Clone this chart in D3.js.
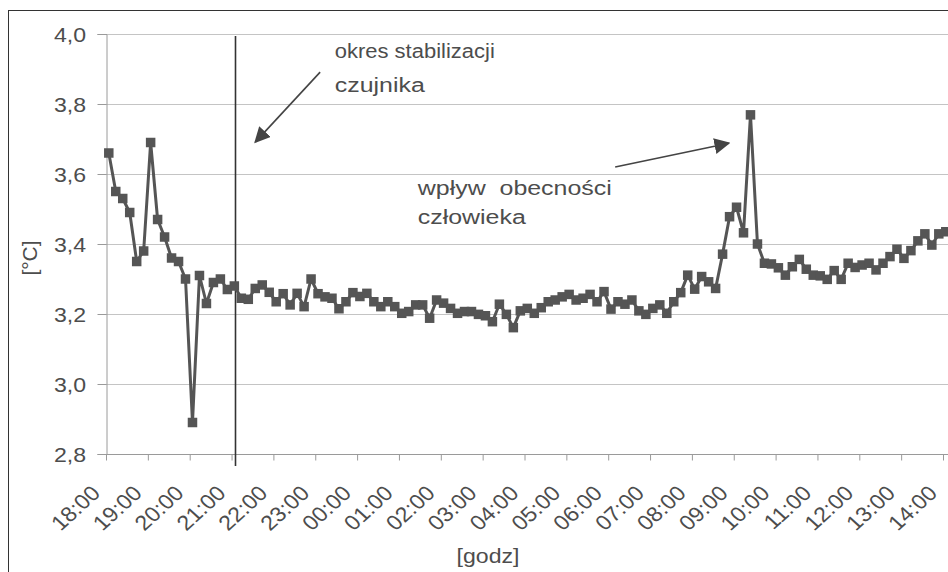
<!DOCTYPE html>
<html>
<head>
<meta charset="utf-8">
<script src="https://cdn.jsdelivr.net/npm/d3@7"></script>
<style>
  html, body { margin: 0; padding: 0; background: #fff; }
  svg { display: block; }
  text { font-family: "Liberation Sans", Arial, sans-serif; }
</style>
</head>
<body>
<svg id="chart" width="948" height="572"></svg>
<script>
// ---- data ----
const hourLabels = ["18:00","19:00","20:00","21:00","22:00","23:00","00:00","01:00","02:00","03:00","04:00",
  "05:00","06:00","07:00","08:00","09:00","10:00","11:00","12:00","13:00","14:00"];
const yTicks = [2.8, 3.0, 3.2, 3.4, 3.6, 3.8, 4.0];
const firstSampleMinute = 4;     // minutes after 18:00
const sampleStepMinutes = 10;
const temperature = [
  3.66, 3.55, 3.53, 3.49, 3.35, 3.38, 3.69, 3.47, 3.42, 3.36,
  3.35, 3.30, 2.89, 3.31, 3.23, 3.29, 3.30, 3.27, 3.28, 3.245,
  3.242, 3.273, 3.283, 3.262, 3.235, 3.258, 3.226, 3.259, 3.221, 3.30,
  3.258, 3.249, 3.245, 3.215, 3.235, 3.261, 3.250, 3.259, 3.235, 3.221,
  3.235, 3.221, 3.202, 3.207, 3.226, 3.226, 3.188, 3.240, 3.231, 3.216,
  3.202, 3.207, 3.207, 3.199, 3.195, 3.178, 3.228, 3.199, 3.161, 3.209,
  3.216, 3.202, 3.218, 3.235, 3.240, 3.249, 3.256, 3.240, 3.245, 3.256,
  3.235, 3.264, 3.214, 3.235, 3.228, 3.240, 3.209, 3.199, 3.216, 3.226,
  3.202, 3.235, 3.261, 3.311, 3.271, 3.307, 3.292, 3.273, 3.371, 3.478,
  3.505, 3.432, 3.769, 3.400, 3.345, 3.343, 3.332, 3.311, 3.335, 3.356,
  3.328, 3.311, 3.309, 3.299, 3.324, 3.299, 3.345, 3.333, 3.340, 3.345,
  3.326, 3.345, 3.364, 3.385, 3.359, 3.381, 3.409, 3.429, 3.397, 3.429,
  3.435
];
const stabilizationEndMinute = 185;
const xTitle = "[godz]";
const yTitle = "[°C]";
const note1 = ["okres stabilizacji", "czujnika"];
const note2 = ["wpływ  obecności", "człowieka"];

// ---- drawing ----
const svg = d3.select("#chart");
const W = 948, H = 572;
const pLeft = 106, pRight = 943, pTop = 34, pBottom = 454;
const SX = 1.1; // horizontal text stretch of the original

const x = d3.scaleLinear().domain([0, (hourLabels.length - 1) * 60]).range([pLeft, pRight]);
const y = d3.scaleLinear().domain([2.8, 4.0]).range([pBottom, pTop]);

const textColor = "#4d4d4d";
const gridColor = "#c4c4c4";
const axisColor = "#9a9a9a";
const seriesColor = "#555555";

svg.append("rect").attr("x", 0).attr("y", 0).attr("width", W).attr("height", H).attr("fill", "#fff");
// outer frame
svg.append("rect").attr("x", 8.5).attr("y", 10.5).attr("width", 1000).attr("height", 1000)
  .attr("fill", "none").attr("stroke", "#333").attr("stroke-width", 1);

// gridlines
svg.append("g").selectAll("line").data(yTicks.slice(1)).join("line")
  .attr("x1", pLeft).attr("x2", W)
  .attr("y1", d => Math.round(y(d)) + 0.5).attr("y2", d => Math.round(y(d)) + 0.5)
  .attr("stroke", gridColor).attr("stroke-width", 1);

// y axis
const yAxis = svg.append("g").attr("transform", `translate(${pLeft + 0.5},0)`)
  .call(d3.axisLeft(y).tickValues(yTicks).tickSize(9).tickPadding(11)
    .tickFormat(d => d.toFixed(1).replace(".", ",")));
yAxis.select(".domain").attr("stroke", axisColor);
yAxis.selectAll(".tick line").attr("stroke", axisColor);
yAxis.selectAll(".tick text").each(function() {
  const t = d3.select(this);
  const xx = +t.attr("x");
  t.attr("x", 0).attr("dy", null).attr("y", 0)
   .attr("transform", `translate(${xx - 0.5},7.5) scale(${SX},1)`)
   .attr("fill", textColor).attr("font-size", 21)
   .attr("font-family", "'Liberation Sans', Arial, sans-serif");
});

// x axis
const xAxis = svg.append("g").attr("transform", `translate(0,${pBottom + 0.5})`)
  .call(d3.axisBottom(x).tickValues(hourLabels.map((_, i) => i * 60)).tickSize(6)
    .tickFormat((d, i) => hourLabels[i]));
xAxis.select(".domain").attr("stroke", axisColor).attr("d", `M${pLeft},0H${W}`);
xAxis.selectAll(".tick line").attr("stroke", axisColor);
xAxis.selectAll(".tick text")
  .attr("x", 0).attr("y", 0).attr("dy", null)
  .attr("text-anchor", "end")
  .attr("transform", `translate(-5,40) scale(${SX},1) rotate(-45)`)
  .attr("fill", textColor).attr("font-size", 21)
  .attr("font-family", "'Liberation Sans', Arial, sans-serif");

// axis titles
svg.append("text").attr("transform", `translate(488,563) scale(${SX},1)`)
  .attr("text-anchor", "middle").attr("font-size", 21).attr("fill", textColor).text(xTitle);
svg.append("text").attr("transform", `translate(37,258) rotate(-90)`)
  .attr("text-anchor", "middle").attr("font-size", 21).attr("fill", textColor).text(yTitle);

// stabilization line
svg.append("line")
  .attr("x1", Math.round(x(stabilizationEndMinute)) + 0.5).attr("x2", Math.round(x(stabilizationEndMinute)) + 0.5)
  .attr("y1", y(4.0) + 2).attr("y2", pBottom + 12)
  .attr("stroke", "#333").attr("stroke-width", 1.6);

// series
const pts = temperature.map((v, i) => ({ m: firstSampleMinute + i * sampleStepMinutes, v }));
svg.append("clipPath").attr("id", "clip").append("rect")
  .attr("x", pLeft - 10).attr("y", 0).attr("width", W - pLeft + 10).attr("height", H);
const g = svg.append("g").attr("clip-path", "url(#clip)");
g.append("path").datum(pts)
  .attr("d", d3.line().x(d => x(d.m)).y(d => y(d.v)))
  .attr("fill", "none").attr("stroke", seriesColor).attr("stroke-width", 3).attr("stroke-linejoin", "round");
g.selectAll("rect.mk").data(pts).join("rect").attr("class", "mk")
  .attr("x", d => x(d.m) - 4.75).attr("y", d => y(d.v) - 4.75)
  .attr("width", 9.5).attr("height", 9.5).attr("fill", seriesColor);

// annotations
const defs = svg.append("defs");
defs.append("marker").attr("id", "arr").attr("viewBox", "0 0 10 10")
  .attr("refX", 9).attr("refY", 5).attr("markerWidth", 16).attr("markerHeight", 16)
  .attr("markerUnits", "userSpaceOnUse").attr("orient", "auto")
  .append("path").attr("d", "M0,0L10,5L0,10Z").attr("fill", "#444");

function arrow(m1, v1, m2, v2) {
  svg.append("line").attr("x1", x(m1)).attr("y1", y(v1)).attr("x2", x(m2)).attr("y2", y(v2))
    .attr("stroke", "#444").attr("stroke-width", 1.6).attr("marker-end", "url(#arr)");
}
function note(lines, widths, m, v, dv) {
  lines.forEach((s, i) => {
    svg.append("text").attr("x", x(m)).attr("y", y(v - i * dv))
      .attr("font-size", 20).attr("fill", textColor)
      .style("white-space", "pre")
      .attr("textLength", widths[i]).attr("lengthAdjust", "spacingAndGlyphs")
      .text(s);
  });
}
arrow(307, 3.891, 214, 3.691);
arrow(730, 3.62, 893, 3.688);
note(note1, [160, 90], 328, 3.931, 0.097);
note(note2, [194, 108], 447, 3.54, 0.083);
</script>
</body>
</html>
